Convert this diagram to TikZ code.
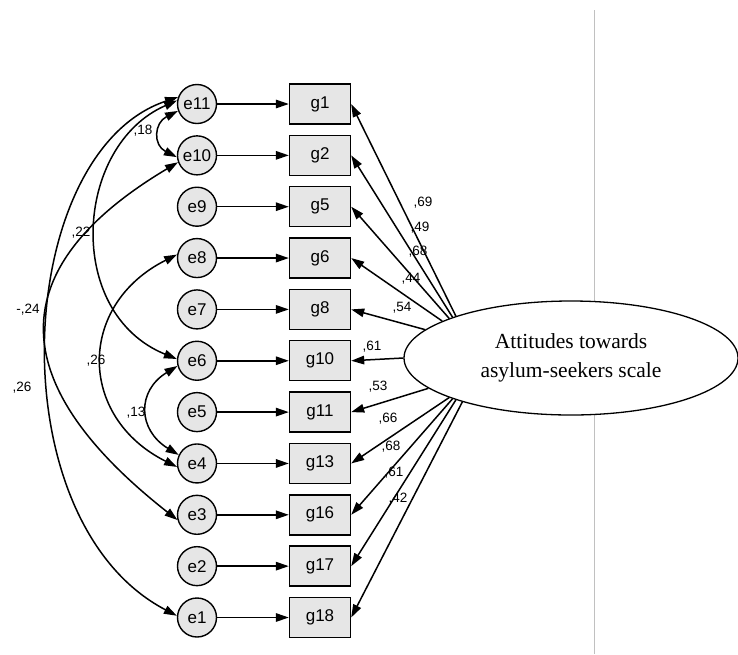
\documentclass[tikz,border=0pt]{standalone}
\usepackage{fontspec}
\setmainfont{Liberation Sans}
\newfontfamily\ellserif{Liberation Serif}
\usetikzlibrary{arrows.meta,shapes.geometric}
\definecolor{boxgray}{HTML}{E6E6E6}
\definecolor{linegray}{HTML}{C0C0C0}
\begin{document}
\begin{tikzpicture}[x=1pt,y=1pt,
  errnode/.style={circle,draw,line width=1.4pt,fill=boxgray,minimum size=39pt,inner sep=0pt,font=\fontsize{17}{19}\selectfont},
  obsnode/.style={rectangle,draw,line width=1.4pt,fill=boxgray,minimum width=61pt,minimum height=40pt,inner sep=0pt,font=\fontsize{17}{19}\selectfont},
  arr/.style={line width=1.5pt,-{Triangle[length=13pt,width=8.5pt]}},
  covarr/.style={line width=1.5pt,{Triangle[length=13pt,width=8.5pt]}-{Triangle[length=13pt,width=8.5pt]}},
  lab/.style={font=\fontsize{13.5}{15}\selectfont,inner sep=0pt}]
\useasboundingbox (0,0) rectangle (738,-654);
\fill[white] (0,0) rectangle (738,-654);
\coordinate (vtop) at (594,-10);
\coordinate (vbot) at (594,-654);
\draw[linegray,line width=1pt] (vtop) -- (vbot);
\foreach \e/\g/\r in {11/1/0,10/2/1,9/5/2,8/6/3,7/8/4,6/10/5,5/11/6,4/13/7,3/16/8,2/17/9,1/18/10}{
  \node[errnode] (e\e) at (197,{-104-51.35*\r}) {e\e};
  \node[obsnode] (g\g) at (320,{-104-51.35*\r}) {g\g};
  \draw[arr] (e\e) -- (g\g);
}
\node[ellipse,draw,line width=1.3pt,fill=white,minimum width=334pt,minimum height=114pt,inner sep=0pt,align=center,
  font=\ellserif\fontsize{21.5}{29}\selectfont] (F) at (571,-358) {Attitudes towards\\asylum-seekers scale};
\foreach \g/\a in {1/160,2/161,5/162,6/164,8/169,10/180,11/192,13/198,16/199,17/200,18/202}{
  \draw[arr] (F.\a) -- (g\g.east);
}
% loading labels
\node[lab] (l1) at (423,-203) {,69};
\node[lab] (l2) at (420,-228) {,49};
\node[lab] (l5) at (418,-252) {,68};
\node[lab] (l6) at (411,-279) {,44};
\node[lab] (l8) at (402,-308) {,54};
\node[lab] (l10) at (372,-347) {,61};
\node[lab] (l11) at (378,-387) {,53};
\node[lab] (l13) at (388,-419) {,66};
\node[lab] (l16) at (391,-447) {,68};
\node[lab] (l17) at (394,-473) {,61};
\node[lab] (l18) at (398,-499) {,42};
% covariances
\draw[covarr] (e11.200) .. controls +(-24,-12) and +(-24,12) .. (e10.185);
\draw[covarr] (e11.170) .. controls +(-103,-45) and +(-113,46) .. (e6.175);
\draw[covarr] (e10.200) .. controls +(-208,-124) and +(-140,110) .. (e3.195);
\draw[covarr] (e11.160) .. controls +(-165,-55) and +(-182,95) .. (e1.175);
\draw[covarr] (e8.170) .. controls +(-100,-50) and +(-100,50) .. (e4.190);
\draw[covarr] (e6.195) .. controls +(-41,-25) and +(-41,25) .. (e4.155);
\node[lab] (c1) at (143,-131) {,18};
\node[lab] (c2) at (81,-233) {,22};
\node[lab] (c3) at (28,-310) {-,24};
\node[lab] (c4) at (22,-388) {,26};
\node[lab] (c5) at (96,-361) {,26};
\node[lab] (c6) at (136,-413) {,13};
\end{tikzpicture}
\end{document}
